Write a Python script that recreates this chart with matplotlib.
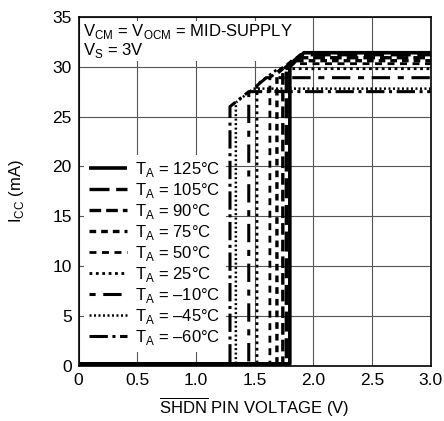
import matplotlib
matplotlib.use('Agg')
import matplotlib.pyplot as plt

plt.rcParams['font.family'] = ['Liberation Sans', 'DejaVu Sans']
plt.rcParams['mathtext.fontset'] = 'custom'
plt.rcParams['mathtext.rm'] = 'Liberation Sans'

# temperature labels, legend order
temps = ['125°C', '105°C', '90°C', '75°C', '50°C', '25°C', '–10°C', '–45°C', '–60°C']
# SHDN pin voltage where supply current turns on (V)
turn_on = [1.80, 1.77, 1.74, 1.69, 1.63, 1.52, 1.45, 1.34, 1.29]
# current right after the step (mA)
step_top = [30.0, 29.9, 29.7, 29.3, 28.9, 28.2, 27.4, 26.4, 26.0]
# voltage where the ramp reaches the plateau (V)
knee = [1.92, 1.89, 1.86, 1.82, 1.78, 1.70, 1.60, 1.49, 1.45]
# plateau current (mA)
plateau = [31.4, 31.2, 30.9, 30.6, 30.3, 29.8, 28.9, 27.8, 27.5]
off_current = 0.2

styles = [
    dict(ls='-', lw=2.6),
    dict(ls=(0, (6, 2)), lw=2.4),
    dict(ls=(0, (3.5, 1.5)), lw=2.4),
    dict(ls=(0, (2, 1.5)), lw=2.4),
    dict(ls=(0, (2.5, 2)), lw=2.0),
    dict(ls=(0, (1, 1.3)), lw=2.0),
    dict(ls=(0, (2, 2.5, 6, 2.5)), lw=2.2),
    dict(ls=(0, (0.8, 1.0)), lw=1.8),
    dict(ls=(0, (6, 1.5, 1, 1.5)), lw=2.2),
]

fs = 12

fig = plt.figure(figsize=(4.44, 4.21), dpi=100)
ax = fig.add_axes([0.177, 0.131, 0.793, 0.829])

for i in range(len(temps)):
    xs = [0, turn_on[i], turn_on[i], knee[i], 3.0]
    ys = [off_current, off_current, step_top[i], plateau[i], plateau[i]]
    ax.plot(xs, ys, color='black', label='T$_\\mathregular{A}$ = ' + temps[i],
            solid_capstyle='butt', dash_capstyle='butt', zorder=3, **styles[i])

ax.set_xlim(0, 3.0)
ax.set_ylim(0, 35)
ax.set_xticks([0, 0.5, 1.0, 1.5, 2.0, 2.5, 3.0])
ax.set_xticklabels(['0', '0.5', '1.0', '1.5', '2.0', '2.5', '3.0'])
ax.set_yticks(range(0, 36, 5))
ax.grid(True, color='#555555', lw=0.8)
ax.set_axisbelow(True)
for s in ax.spines.values():
    s.set_linewidth(1.2)
ax.tick_params(length=0, labelsize=fs + 0.5, pad=5)

ax.set_xlabel(r'$\overline{\mathregular{SHDN}}$ PIN VOLTAGE (V)', fontsize=fs, labelpad=6)
ax.set_ylabel(r'I$_\mathregular{CC}$ (mA)', fontsize=fs, labelpad=19)

note = ax.text(0.012, 0.985,
               'V$_\\mathregular{CM}$ = V$_\\mathregular{OCM}$ = MID-SUPPLY\nV$_\\mathregular{S}$ = 3V',
               transform=ax.transAxes, va='top', ha='left', fontsize=fs, linespacing=1.0,
               bbox=dict(facecolor='white', edgecolor='none', pad=1))
note.set_zorder(1.5)

leg = ax.legend(loc='lower left', bbox_to_anchor=(0.0, 0.025), frameon=True, fontsize=fs,
                handlelength=2.3, handletextpad=0.5, labelspacing=0.12, borderpad=0.3,
                borderaxespad=0.3)
leg.get_frame().set_edgecolor('none')
leg.get_frame().set_facecolor('white')
leg.get_frame().set_alpha(1)
leg.set_zorder(1.5)

fig.savefig('out.png', dpi=100)
